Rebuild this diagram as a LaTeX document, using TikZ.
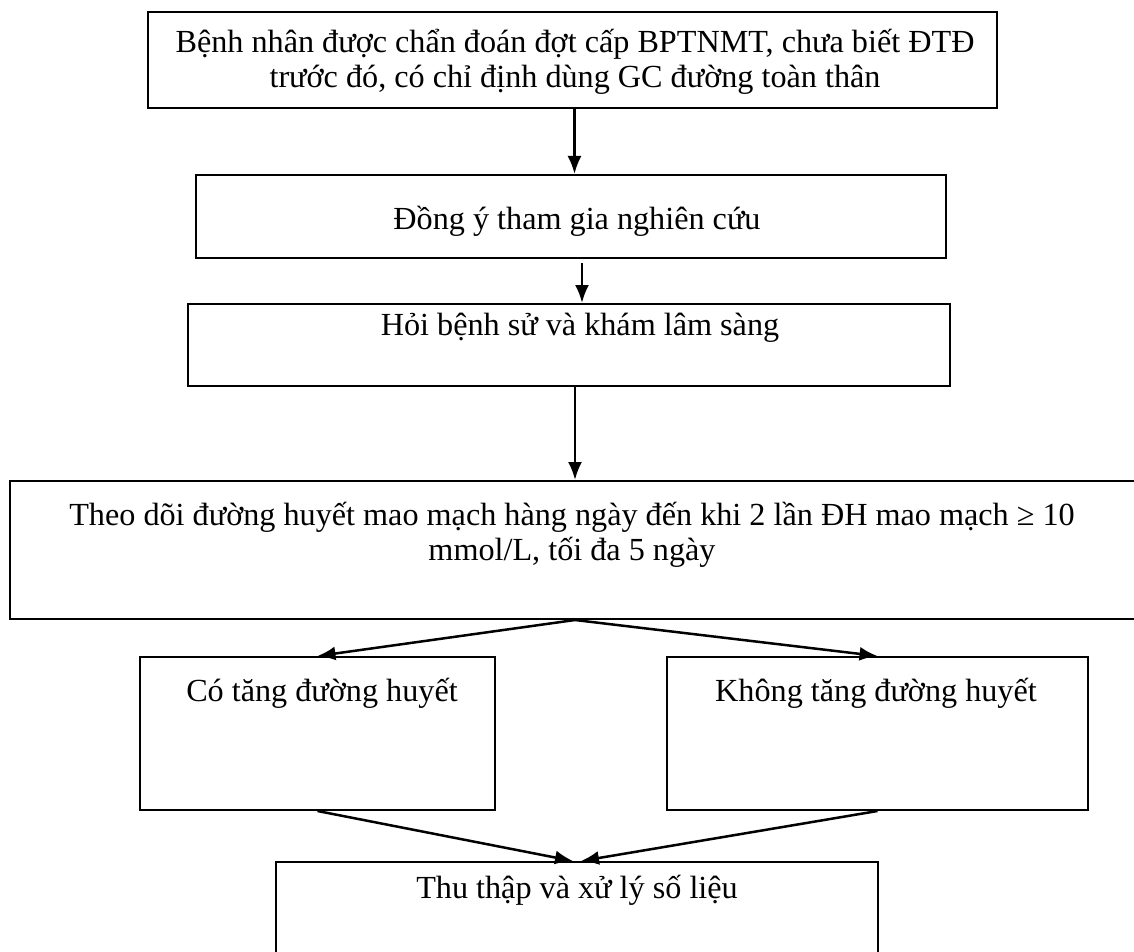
\documentclass[tikz,border=0pt]{standalone}
\usepackage{fontspec}
\setmainfont{Liberation Serif}
\usetikzlibrary{positioning,arrows.meta}

\tikzset{
  khung/.style={draw, rectangle, line width=1pt, inner sep=0pt},
  chu/.style={align=center, inner sep=0pt, font=\fontsize{16.1}{17.8}\selectfont},
  mui/.style={draw, line width=1.25pt, -{Latex[length=9pt,width=7pt]}},
}

\begin{document}
\begin{tikzpicture}[x=0.5pt, y=-0.5pt]
    \useasboundingbox (0,0) rectangle (1134,952);
    % cac khung
    \node[khung, minimum width=424.5pt, minimum height=48pt] (b1) at (572.5,60) {};
    \node[khung, minimum width=375pt, minimum height=41.5pt] (b2) at (571,216.5) {};
    \node[khung, minimum width=381pt, minimum height=41pt] (b3) at (569,345) {};
    \node[khung, minimum width=565pt, minimum height=69pt] (b4) at (575,550) {};
    \node[khung, minimum width=177.5pt, minimum height=76.5pt] (b5) at (317.5,733.5) {};
    \node[khung, minimum width=210.5pt, minimum height=76.5pt] (b6) at (877.5,733.5) {};
    \node[khung, minimum width=301pt, minimum height=69pt] (b7) at (577,931) {};

    % chu trong khung
    \node[chu] (t1) at (575,62) {Bệnh nhân được chẩn đoán đợt cấp BPTNMT, chưa biết ĐTĐ\\trước đó, có chỉ định dùng GC đường toàn thân};
    \node[chu] (t2) at (577,221) {Đồng ý tham gia nghiên cứu};
    \node[chu] (t3) at (580,328) {Hỏi bệnh sử và khám lâm sàng};
    \node[chu] (t4) at (572,535) {Theo dõi đường huyết mao mạch hàng ngày đến khi 2 lần ĐH mao mạch ≥ 10\\mmol/L, tối đa 5 ngày};
    \node[chu] (t5) at (322,693) {Có tăng đường huyết};
    \node[chu] (t6) at (876,693) {Không tăng đường huyết};
    \node[chu] (t7) at (577,890) {Thu thập và xử lý số liệu};

    % mui ten
    \draw[mui] ([xshift=1pt]b1.south) -- ([xshift=1pt]b1.south |- b2.north);
    \draw[mui] ([xshift=5.5pt,yshift=-2pt]b2.south) -- ([xshift=5.5pt]b2.south |- b3.north);
    \draw[mui] ([xshift=3pt]b3.south) -- ([xshift=3pt]b3.south |- b4.north);
    \draw[mui] (b4.south) -- (b5.north);
    \draw[mui] (b4.south) -- (b6.north);
    \draw[mui] (b5.south) -- ([xshift=-2pt]b7.north);
    \draw[mui] (b6.south) -- ([xshift=2pt]b7.north);
\end{tikzpicture}
\end{document}
